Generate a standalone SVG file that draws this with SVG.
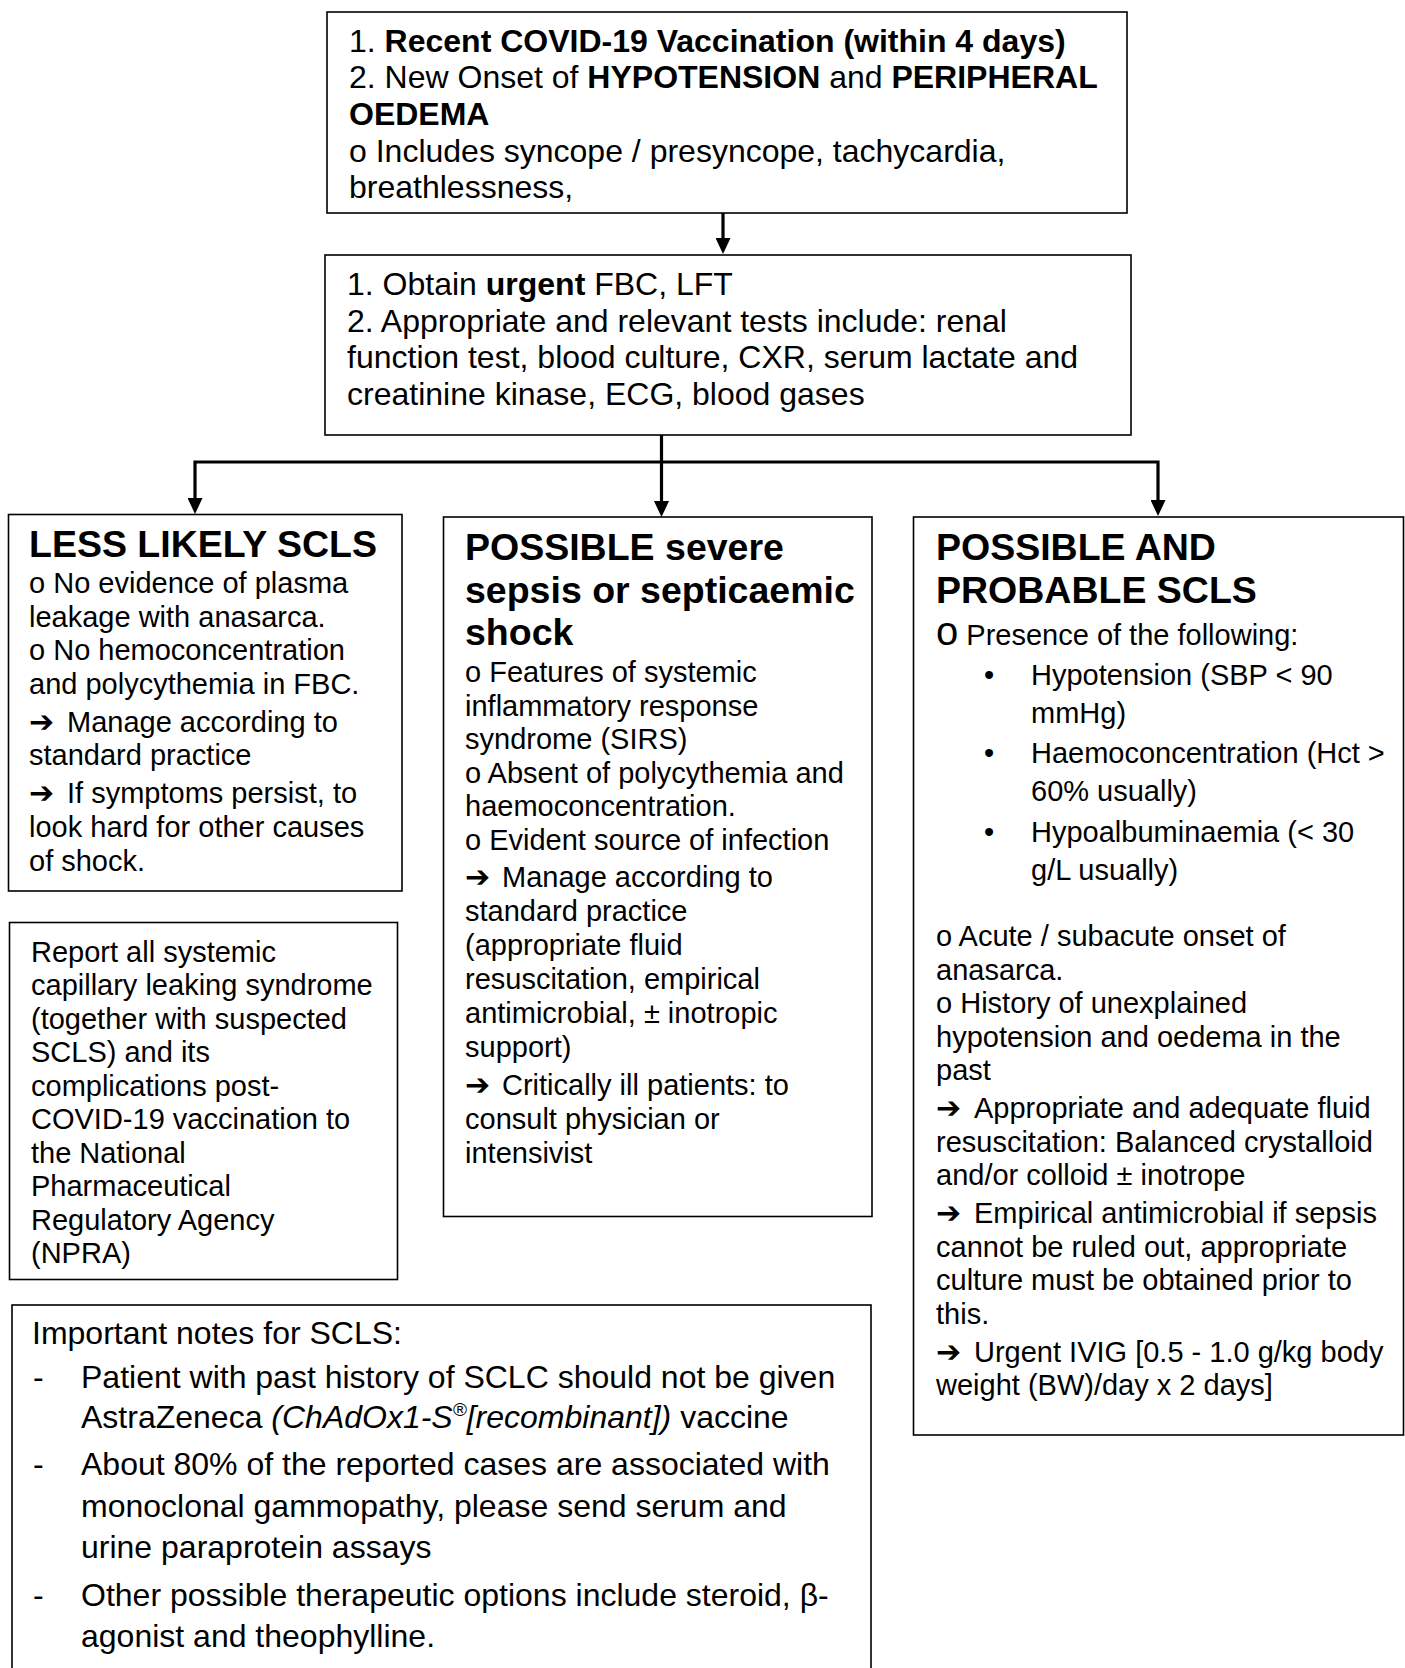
<svg xmlns="http://www.w3.org/2000/svg" width="1405" height="1668" viewBox="0 0 1405 1668">
  <style>
    .box { fill: #fff; stroke: #000; stroke-width: 1.6; }
    .wire { fill: none; stroke: #000; stroke-width: 3.2; stroke-linejoin: miter; }
    text { font-family: "Liberation Sans", Arial, sans-serif; fill: #000; }
    .s32 { font-size: 32px; }
    .s29 { font-size: 29px; }
    .ttl { font-size: 37.5px; font-weight: bold; }
    .b { font-weight: bold; }
    .i { font-style: italic; }
    .ar { font-family: "DejaVu Sans", sans-serif; font-size: 30px; }
    .bigo { font-size: 40px; }
  </style>
  <defs>
    <marker id="head" markerUnits="userSpaceOnUse" markerWidth="16" markerHeight="15" viewBox="0 0 16 15" refX="3" refY="7.5" orient="auto">
      <path d="M0,0 L16,7.5 L0,15 Z" fill="#000"/>
    </marker>
  </defs>

  <!-- connectors -->
  <g id="connectors">
    <path class="wire" d="M723,213 V241" marker-end="url(#head)"/>
    <path class="wire" d="M661.5,435 V504" marker-end="url(#head)"/>
    <path class="wire" d="M661.5,462 H195 V501" marker-end="url(#head)"/>
    <path class="wire" d="M661.5,462 H1158 V503" marker-end="url(#head)"/>
  </g>

  <!-- presenting features -->
  <g id="presentation">
    <rect class="box" x="327" y="12" width="800" height="201"/>
    <text class="s32" x="349" y="52">1. <tspan class="b">Recent COVID-19 Vaccination (within 4 days)</tspan></text>
    <text class="s32" x="349" y="88">2. New Onset of <tspan class="b">HYPOTENSION</tspan> and <tspan class="b">PERIPHERAL</tspan></text>
    <text class="s32 b" x="349" y="125">OEDEMA</text>
    <text class="s32" x="349" y="162">o Includes syncope / presyncope, tachycardia,</text>
    <text class="s32" x="349" y="198">breathlessness,</text>
  </g>

  <!-- investigations -->
  <g id="investigations">
    <rect class="box" x="325" y="255" width="806" height="180"/>
    <text class="s32" x="347" y="295">1. Obtain <tspan class="b">urgent</tspan> FBC, LFT</text>
    <text class="s32" x="347" y="332">2. Appropriate and relevant tests include: renal</text>
    <text class="s32" x="347" y="368">function test, blood culture, CXR, serum lactate and</text>
    <text class="s32" x="347" y="405">creatinine kinase, ECG, blood gases</text>
  </g>

  <!-- less likely SCLS -->
  <g id="less-likely">
    <rect class="box" x="8.5" y="514.5" width="393.5" height="376.5"/>
    <text class="ttl" x="29" y="557">LESS LIKELY SCLS</text>
    <text class="s29" x="29" y="593">o No evidence of plasma</text>
    <text class="s29" x="29" y="627">leakage with anasarca.</text>
    <text class="s29" x="29" y="660">o No hemoconcentration</text>
    <text class="s29" x="29" y="694">and polycythemia in FBC.</text>
    <text class="s29" x="29" y="732"><tspan class="ar">➔</tspan><tspan x="67">Manage according to</tspan></text>
    <text class="s29" x="29" y="765">standard practice</text>
    <text class="s29" x="29" y="803"><tspan class="ar">➔</tspan><tspan x="67">If symptoms persist, to</tspan></text>
    <text class="s29" x="29" y="837">look hard for other causes</text>
    <text class="s29" x="29" y="871">of shock.</text>
  </g>

  <!-- reporting -->
  <g id="reporting">
    <rect class="box" x="9.5" y="922.5" width="388" height="357"/>
    <text class="s29" x="31" y="962">Report all systemic</text>
    <text class="s29" x="31" y="995">capillary leaking syndrome</text>
    <text class="s29" x="31" y="1029">(together with suspected</text>
    <text class="s29" x="31" y="1062">SCLS) and its</text>
    <text class="s29" x="31" y="1096">complications post-</text>
    <text class="s29" x="31" y="1129">COVID-19 vaccination to</text>
    <text class="s29" x="31" y="1163">the National</text>
    <text class="s29" x="31" y="1196">Pharmaceutical</text>
    <text class="s29" x="31" y="1230">Regulatory Agency</text>
    <text class="s29" x="31" y="1263">(NPRA)</text>
  </g>

  <!-- possible sepsis -->
  <g id="sepsis">
    <rect class="box" x="443.5" y="517" width="428.5" height="699.5"/>
    <text class="ttl" x="465" y="560">POSSIBLE severe</text>
    <text class="ttl" x="465" y="603">sepsis or septicaemic</text>
    <text class="ttl" x="465" y="645">shock</text>
    <text class="s29" x="465" y="682">o Features of systemic</text>
    <text class="s29" x="465" y="716">inflammatory response</text>
    <text class="s29" x="465" y="749">syndrome (SIRS)</text>
    <text class="s29" x="465" y="783">o Absent of polycythemia and</text>
    <text class="s29" x="465" y="816">haemoconcentration.</text>
    <text class="s29" x="465" y="850">o Evident source of infection</text>
    <text class="s29" x="465" y="887"><tspan class="ar">➔</tspan><tspan x="502">Manage according to</tspan></text>
    <text class="s29" x="465" y="921">standard practice</text>
    <text class="s29" x="465" y="955">(appropriate fluid</text>
    <text class="s29" x="465" y="989">resuscitation, empirical</text>
    <text class="s29" x="465" y="1023">antimicrobial, ± inotropic</text>
    <text class="s29" x="465" y="1057">support)</text>
    <text class="s29" x="465" y="1095"><tspan class="ar">➔</tspan><tspan x="502">Critically ill patients: to</tspan></text>
    <text class="s29" x="465" y="1129">consult physician or</text>
    <text class="s29" x="465" y="1163">intensivist</text>
  </g>

  <!-- possible and probable SCLS -->
  <g id="probable-scls">
    <rect class="box" x="913.5" y="517" width="490" height="918"/>
    <text class="ttl" x="936" y="560">POSSIBLE AND</text>
    <text class="ttl" x="936" y="603">PROBABLE SCLS</text>
    <text class="s29" x="936" y="645"><tspan class="bigo">o</tspan> Presence of the following:</text>
    <text class="s29" x="989" y="685" text-anchor="middle">•</text>
    <text class="s29" x="1031" y="685">Hypotension (SBP &lt; 90</text>
    <text class="s29" x="1031" y="723">mmHg)</text>
    <text class="s29" x="989" y="763" text-anchor="middle">•</text>
    <text class="s29" x="1031" y="763">Haemoconcentration (Hct &gt;</text>
    <text class="s29" x="1031" y="801">60% usually)</text>
    <text class="s29" x="989" y="842" text-anchor="middle">•</text>
    <text class="s29" x="1031" y="842">Hypoalbuminaemia (&lt; 30</text>
    <text class="s29" x="1031" y="880">g/L usually)</text>
    <text class="s29" x="936" y="946">o Acute / subacute onset of</text>
    <text class="s29" x="936" y="980">anasarca.</text>
    <text class="s29" x="936" y="1013">o History of unexplained</text>
    <text class="s29" x="936" y="1047">hypotension and oedema in the</text>
    <text class="s29" x="936" y="1080">past</text>
    <text class="s29" x="936" y="1118"><tspan class="ar">➔</tspan><tspan x="974">Appropriate and adequate fluid</tspan></text>
    <text class="s29" x="936" y="1152">resuscitation: Balanced crystalloid</text>
    <text class="s29" x="936" y="1185">and/or colloid ± inotrope</text>
    <text class="s29" x="936" y="1223"><tspan class="ar">➔</tspan><tspan x="974">Empirical antimicrobial if sepsis</tspan></text>
    <text class="s29" x="936" y="1257">cannot be ruled out, appropriate</text>
    <text class="s29" x="936" y="1290">culture must be obtained prior to</text>
    <text class="s29" x="936" y="1324">this.</text>
    <text class="s29" x="936" y="1362"><tspan class="ar">➔</tspan><tspan x="974">Urgent IVIG [0.5 - 1.0 g/kg body</tspan></text>
    <text class="s29" x="936" y="1395">weight (BW)/day x 2 days]</text>
  </g>

  <!-- important notes -->
  <g id="notes">
    <rect class="box" x="12" y="1305" width="859" height="380"/>
    <text class="s32" x="32" y="1344">Important notes for SCLS:</text>
    <text class="s32" x="33" y="1388">-</text>
    <text class="s32" x="81" y="1388">Patient with past history of SCLC should not be given</text>
    <text class="s32" x="81" y="1428">AstraZeneca <tspan class="i">(ChAdOx1-S<tspan font-size="19px" dy="-12">®</tspan><tspan dy="12">[recombinant])</tspan></tspan> vaccine</text>
    <text class="s32" x="33" y="1475">-</text>
    <text class="s32" x="81" y="1475">About 80% of the reported cases are associated with</text>
    <text class="s32" x="81" y="1517">monoclonal gammopathy, please send serum and</text>
    <text class="s32" x="81" y="1558">urine paraprotein assays</text>
    <text class="s32" x="33" y="1606">-</text>
    <text class="s32" x="81" y="1606">Other possible therapeutic options include steroid, β-</text>
    <text class="s32" x="81" y="1647">agonist and theophylline.</text>
  </g>
</svg>
